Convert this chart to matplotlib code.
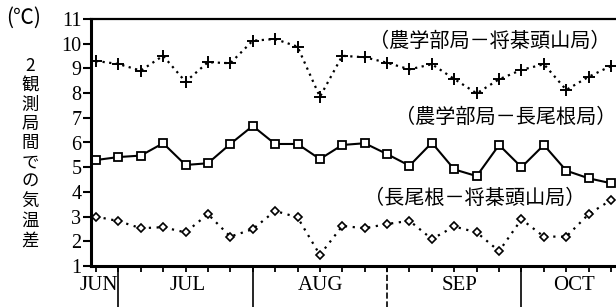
import numpy as np
import matplotlib.pyplot as plt
import matplotlib.transforms as mtransforms

plt.rcParams['font.family'] = ['Liberation Serif', 'Noto Sans CJK JP', 'DejaVu Sans']

# pentad index (半旬), Jun - Oct
pentads = np.arange(24)

# 農学部局 - 将棊頭山局
d_farm_shogi = [9.30, 9.18, 8.91, 9.51, 8.46, 9.25, 9.21, 10.12, 10.19, 9.88, 7.85, 9.51,
                9.45, 9.23, 8.96, 9.17, 8.57, 7.99, 8.56, 8.94, 9.17, 8.13, 8.66, 9.10]
# 農学部局 - 長尾根局
d_farm_naga = [5.29, 5.41, 5.47, 5.97, 5.09, 5.16, 5.94, 6.67, 5.94, 5.94, 5.33, 5.90,
               5.97, 5.53, 5.06, 5.99, 4.91, 4.64, 5.90, 5.00, 5.90, 4.86, 4.55, 4.35]
# 長尾根 - 将棊頭山局
d_naga_shogi = [3.00, 2.82, 2.53, 2.57, 2.36, 3.10, 2.19, 2.49, 3.23, 2.97, 1.45, 2.62,
                2.53, 2.70, 2.83, 2.09, 2.60, 2.36, 1.60, 2.89, 2.19, 2.19, 3.10, 3.67]

month_names = ['JUN', 'JUL', 'AUG', 'SEP', 'OCT']
month_label_pos = [0.15, 4.1, 10.05, 16.25, 21.35]
month_bounds = [1, 7, 13, 19]
bound_styles = ['-', '-', '--', '-']

series_labels = ['（農学部局－将棊頭山局）', '（農学部局－長尾根局）', '（長尾根－将棊頭山局）']

fig = plt.figure(figsize=(6.16, 3.07), dpi=100)
ax = fig.add_axes([91 / 616, 41 / 307, 525 / 616, 247 / 307])

ax.plot(pentads, d_farm_shogi, color='black', linestyle=(0, (1, 2)), linewidth=1.6,
        marker='+', markersize=8, markeredgewidth=1.4)
ax.plot(pentads, d_farm_naga, color='black', linestyle='-', linewidth=1.5,
        marker='s', markersize=6, markerfacecolor='white', markeredgewidth=1.3)
ax.plot(pentads, d_naga_shogi, color='black', linestyle=(0, (1, 2.5)), linewidth=1.6,
        marker='D', markersize=4.5, markerfacecolor='white', markeredgewidth=1.2)

ax.set_xlim(-0.22, 23.22)
ax.set_ylim(1, 11)
ax.set_yticks(range(1, 12))
ax.set_xticks(pentads)
ax.set_xticklabels([])
ax.tick_params(axis='y', direction='out', length=6, width=1.5, labelsize=14.5, pad=1)
ax.tick_params(axis='x', direction='out', length=4, width=1.3)

ax.spines['right'].set_visible(False)
ax.spines['left'].set_linewidth(2.2)
ax.spines['bottom'].set_linewidth(2.2)
ax.spines['top'].set_linewidth(1.6)

trans = mtransforms.blended_transform_factory(ax.transData, ax.transAxes)
for b, ls in zip(month_bounds, bound_styles):
    ax.plot([b, b], [0, -0.17], transform=trans, color='black', linewidth=1.2,
            linestyle=ls, clip_on=False)
for name, pos in zip(month_names, month_label_pos):
    ax.text(pos, -0.08, name, transform=trans, ha='center', va='center', fontsize=15)

ax.text(17.6, 10.1, series_labels[0], ha='center', va='center', fontsize=14.5,
        family=['Noto Sans CJK JP'])
ax.text(18.3, 7.0, series_labels[1], ha='center', va='center', fontsize=14.5,
        family=['Noto Sans CJK JP'])
ax.text(16.9, 3.75, series_labels[2], ha='center', va='center', fontsize=14.5,
        family=['Noto Sans CJK JP'])

fig.text(24 / 616, 1 - 18 / 307, '(℃)', ha='center', va='center', fontsize=15,
         family=['Noto Sans CJK JP', 'DejaVu Sans'])
fig.text(30 / 616, 1 - 153 / 307, '2\n観\n測\n局\n間\nで\nの\n気\n温\n差', ha='center', va='center',
         fontsize=12.5, linespacing=1.1, family=['Noto Sans CJK JP'])

fig.savefig('out.png', dpi=100)
